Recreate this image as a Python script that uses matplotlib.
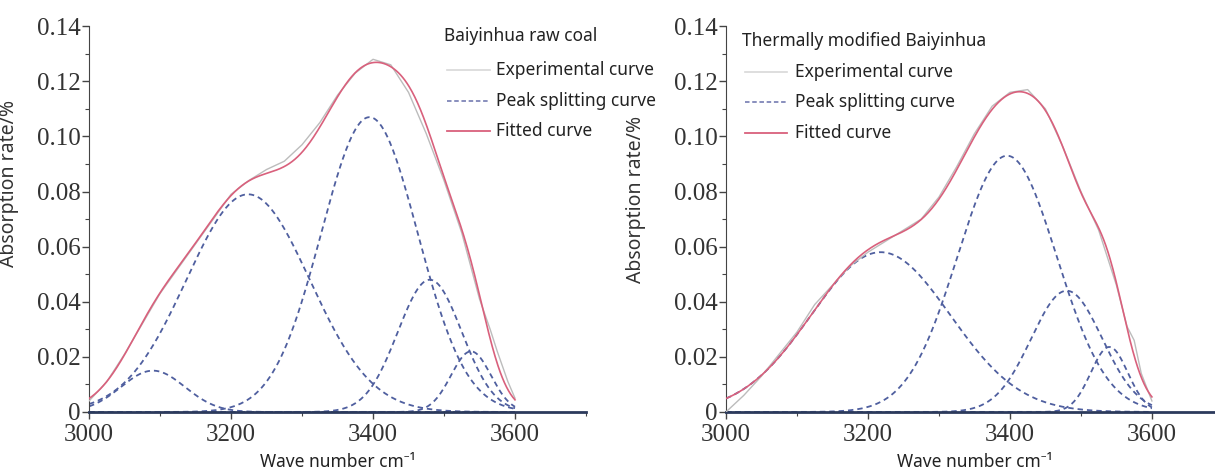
import numpy as np
import matplotlib
matplotlib.use("Agg")
import matplotlib.pyplot as plt
from matplotlib.ticker import MultipleLocator, FixedLocator, FuncFormatter

# peak splitting parameters: centre (cm-1), height, width (sigma)
raw_centers = [3090, 3224, 3395, 3480, 3538]
raw_heights = [0.015, 0.079, 0.107, 0.048, 0.022]
raw_widths = [45, 87, 68, 45, 28]

mod_centers = [3218, 3396, 3480, 3540]
mod_heights = [0.058, 0.093, 0.044, 0.0236]
mod_widths = [98, 70, 50, 26]

# experimental curves
raw_exp_x = [3000, 3025, 3050, 3075, 3100, 3125, 3150, 3175, 3200, 3225, 3250, 3275, 3300,
             3325, 3350, 3375, 3400, 3425, 3450, 3475, 3500, 3525, 3550, 3565, 3575, 3590, 3600]
raw_exp_y = [0.004, 0.011, 0.021, 0.032, 0.043, 0.052, 0.061, 0.070, 0.079, 0.084, 0.088, 0.091, 0.097,
             0.105, 0.115, 0.123, 0.128, 0.126, 0.116, 0.101, 0.084, 0.065, 0.041, 0.030, 0.022, 0.011, 0.005]

mod_exp_x = [3000, 3025, 3050, 3075, 3100, 3125, 3150, 3175, 3200, 3225, 3250, 3275, 3300,
             3325, 3350, 3375, 3400, 3425, 3450, 3475, 3500, 3525, 3550, 3565, 3575, 3585, 3600]
mod_exp_y = [0.000, 0.006, 0.013, 0.021, 0.029, 0.039, 0.046, 0.053, 0.058, 0.062, 0.066, 0.070, 0.078,
             0.089, 0.101, 0.111, 0.116, 0.117, 0.110, 0.096, 0.080, 0.066, 0.046, 0.031, 0.026, 0.014, 0.004]

titles = ["Baiyinhua raw coal", "Thermally modified Baiyinhua"]
legend_labels = ["Experimental curve", "Peak splitting curve", "Fitted curve"]
y_ticks = [0, 0.02, 0.04, 0.06, 0.08, 0.10, 0.12, 0.14]
x_ticks = [3000, 3200, 3400, 3600]

dash_col = "#4f5f9f"
fit_col = "#d9607c"
exp_col = "#bcbcbc"
base_col = "#2c3a5c"

plt.rcParams["font.family"] = ["Noto Sans", "DejaVu Sans"]

W, H = 1215, 471
fig = plt.figure(figsize=(W / 100, H / 100), dpi=100)
ax1 = fig.add_axes([0.0733, 0.1253, 0.409, 0.819])
ax2 = fig.add_axes([0.5975, 0.1253, 0.409, 0.819])

xx = np.linspace(3000, 3600, 601)


def px(x, y):
    return x / W, 1 - y / H


def draw_legend(title, tx, ty, rows, hx0, hx1, lx):
    fig.text(*px(tx, ty), title, fontsize=12.5, color="#222222", va="center", ha="left")
    styles = [dict(color="#d8d8d8", lw=1.2),
              dict(color="#7f86b8", lw=1.3, ls=(0, (2.5, 1.5))),
              dict(color=fit_col, lw=1.3)]
    for ry, lab, st in zip(rows, legend_labels, styles):
        x0, y0 = px(hx0, ry)
        x1, _ = px(hx1, ry)
        fig.add_artist(plt.Line2D([x0, x1], [y0, y0], transform=fig.transFigure, **st))
        fig.text(*px(lx, ry), lab, fontsize=12.5, color="#222222", va="center", ha="left")


def draw_panel(ax, centers, heights, widths, ex, ey, ylab_pos):
    fitted = np.zeros_like(xx)
    for c, h, w in zip(centers, heights, widths):
        peak = h * np.exp(-(xx - c) ** 2 / (2 * w ** 2))
        fitted += peak
        ax.plot(xx, peak, color=dash_col, lw=1.3, ls=(0, (3, 2.2)), zorder=2)
    ax.plot(ex, ey, color=exp_col, lw=1.0, zorder=3)
    ax.plot(xx, fitted, color=fit_col, lw=1.2, zorder=4)

    ax.set_xlim(3000, 3700)
    ax.set_ylim(0, 0.14)
    ax.spines["top"].set_visible(False)
    ax.spines["right"].set_visible(False)
    ax.spines["left"].set_color("#444444")
    ax.spines["bottom"].set_color(base_col)
    ax.spines["bottom"].set_linewidth(2.0)
    ax.xaxis.set_major_locator(FixedLocator(x_ticks))
    ax.xaxis.set_minor_locator(MultipleLocator(100))
    ax.yaxis.set_major_locator(FixedLocator(y_ticks))
    ax.yaxis.set_minor_locator(MultipleLocator(0.01))
    ax.yaxis.set_major_formatter(FuncFormatter(lambda v, p: "0" if abs(v) < 1e-9 else f"{v:.2f}"))
    ax.tick_params(which="major", length=5, width=1.0, color="#444444", labelsize=18,
                   labelcolor="#333333")
    ax.tick_params(axis="y", which="major", pad=1)
    ax.tick_params(axis="x", which="major", pad=4)
    ax.tick_params(which="minor", length=3, width=0.8, color="#444444")
    for lab in ax.get_xticklabels() + ax.get_yticklabels():
        lab.set_family("Liberation Serif")

    ax.set_ylabel("Absorption rate/%", fontsize=14, color="#333333")
    ax.yaxis.set_label_coords(ylab_pos[0], ylab_pos[1])
    ax.set_xlabel("Wave number cm\u207b\u00b9", fontsize=12.5, color="#222222", va="center")
    ax.xaxis.set_label_coords(0.5, -0.13)


draw_panel(ax1, raw_centers, raw_heights, raw_widths, raw_exp_x, raw_exp_y, (-0.14, 0.593))
draw_panel(ax2, mod_centers, mod_heights, mod_widths, mod_exp_x, mod_exp_y, (-0.16, 0.55))

draw_legend(titles[0], 444, 36, [70, 101, 131], 447, 490, 496)
draw_legend(titles[1], 742, 41, [72, 102, 133], 745, 787, 795)

fig.savefig("out.png", dpi=100)
